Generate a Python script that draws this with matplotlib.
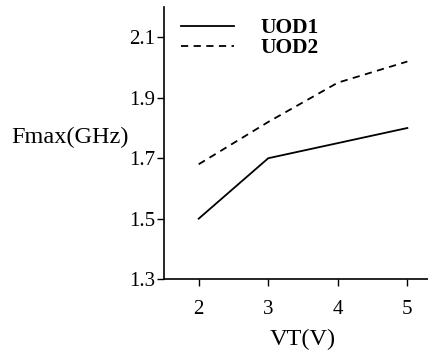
import matplotlib
matplotlib.use("Agg")
import matplotlib.pyplot as plt

plt.rcParams.update({"font.family": "Liberation Serif", "font.size": 15.5})

vt = [2, 3, 4, 5]
uod1 = [1.50, 1.70, 1.75, 1.80]
uod2 = [1.68, 1.82, 1.95, 2.02]
yticks = [1.3, 1.5, 1.7, 1.9, 2.1]

fig = plt.figure(figsize=(4.28, 3.56), dpi=100)
ax = fig.add_axes([0.383, 0.216, 0.65, 0.764])

ax.plot(vt, uod1, color="black", lw=1.3, label="UOD1")
ax.plot(vt, uod2, color="black", lw=1.3, ls=(0, (4, 3)), label="UOD2")

ax.set_xlim(1.5, 5.5)
ax.set_ylim(1.3, 2.2)
ax.set_xticks(vt)
ax.set_yticks(yticks)
ax.set_yticklabels([f"{v:.1f}" for v in yticks])
ax.tick_params(direction="out", length=5, width=1, pad=1, labelsize=15)
ax.tick_params(axis="x", pad=10)
for s in ["top", "right"]:
    ax.spines[s].set_visible(False)
for s in ["left", "bottom"]:
    ax.spines[s].set_linewidth(1.2)

ax.set_xlabel("VT(V)", fontsize=17.5, labelpad=7)
ax.set_ylabel("Fmax(GHz)", fontsize=17.5, rotation=0, ha="right", va="center")
ax.yaxis.set_label_coords(-0.125, 0.52)

leg = ax.legend(loc="upper left", bbox_to_anchor=(-0.01, 1.03), frameon=False,
                handlelength=2.5, handletextpad=1.2, labelspacing=0.0,
                prop={"weight": "bold", "size": 15.5})

fig.savefig("out.png", dpi=100)
